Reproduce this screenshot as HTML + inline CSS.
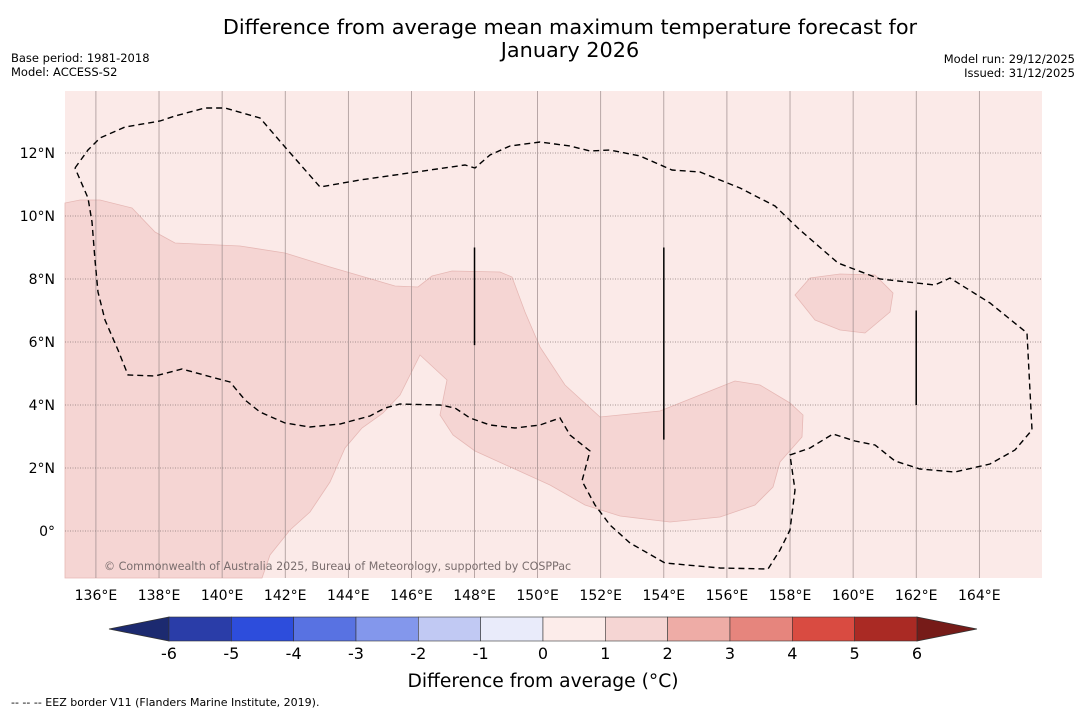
<!DOCTYPE html>
<html><head><meta charset="utf-8"><style>
body{margin:0;background:#fff;width:1085px;height:713px;overflow:hidden;font-family:"Liberation Sans","DejaVu Sans",sans-serif}
svg text{font-family:"DejaVu Sans","Liberation Sans",sans-serif}
</style></head><body>
<svg id="c" width="1085" height="713" xmlns="http://www.w3.org/2000/svg"></svg>
<script>
// data
const lonTicks=[136,138,140,142,144,146,148,150,152,154,156,158,160,162,164];
const latTicks=[0,2,4,6,8,10,12];
const latLabels=["0°","2°N","4°N","6°N","8°N","10°N","12°N"];
const cbBounds=[-6,-5,-4,-3,-2,-1,0,1,2,3,4,5,6];
const cbColors=["#2a3da8","#2d4ddc","#5872e2","#8397ec","#c1c9f3","#e9ebfa","#fcecea","#f5d5d3","#eeaca6","#e6857d","#d94b41","#aa2a24"];
const anomalyRegionPx=[[65,203],[80,200],[100,200],[132,208],[155,232],[175,243],[240,246],[285,253],[330,267],[395,286],[418,287],[432,276],[452,271],[500,272],[512,277],[525,312],[540,347],[565,385],[600,417],[660,411],[705,393],[735,381],[760,385],[790,403],[803,415],[802,437],[780,462],[773,487],[755,505],[720,517],[670,522],[620,516],[585,505],[550,485],[475,451],[453,435],[440,415],[447,380],[420,355],[410,375],[400,395],[383,413],[362,428],[345,448],[330,482],[310,512],[290,530],[270,555],[262,578],[65,578]];
const anomalyRegion2Px=[[795,295],[810,278],[840,274],[875,275],[893,293],[890,312],[865,333],[840,330],[815,320]];
const eezPx=[[75,168],[88,150],[100,138],[125,127],[160,121],[175,116],[205,108],[225,108],[260,118],[285,147],[320,187],[360,180],[430,170],[465,165],[475,168],[490,155],[510,146],[540,142],[570,146],[590,151],[610,150],[640,156],[672,170],[700,172],[740,188],[775,206],[800,230],[838,263],[880,279],[935,285],[950,278],[990,303],[1027,333],[1032,430],[1015,450],[990,464],[955,472],[920,469],[895,461],[875,445],[855,441],[833,434],[810,448],[790,455],[795,490],[790,530],[780,550],[768,569],[720,568],[665,563],[630,543],[610,525],[595,505],[582,481],[590,451],[570,435],[560,418],[540,425],[515,428],[490,425],[470,418],[455,408],[440,405],[400,404],[385,408],[370,416],[340,424],[310,427],[285,423],[260,412],[245,400],[230,382],[215,378],[182,369],[155,376],[128,375],[118,350],[105,320],[98,292],[95,260],[92,222],[88,198],[75,168]];
const vLines=[[148,9,5.9],[154,9,2.9],[162,7,4]];
// axis functions
const X0=65,X1=1042,Y0=91,Y1=578;
const lon0=135.02,ppd=31.55,ppdy=31.5;
const xs=l=>X0+(l-lon0)*ppd, ys=l=>531-l*ppdy;
const toLL=p=>[lon0+(p[0]-X0)/ppd,(531-p[1])/ppdy];
const svg=document.getElementById('c');const NS="http://www.w3.org/2000/svg";
function el(t,a,txt){const e=document.createElementNS(NS,t);for(const k in a)e.setAttribute(k,a[k]);if(txt!==undefined)e.textContent=txt;svg.appendChild(e);return e;}
function path(ll){return ll.map((p,i)=>(i?'L':'M')+xs(p[0]).toFixed(1)+','+ys(p[1]).toFixed(1)).join('');}
let e;
e=el('rect',{x:X0,y:Y0,width:X1-X0,height:Y1-Y0,fill:'#fbeae8'});


e=el('path',{d:path(anomalyRegionPx.map(toLL))+'Z',fill:'#f5d5d3',stroke:'#e6b8b5','stroke-width':0.8});


e=el('path',{d:path(anomalyRegion2Px.map(toLL))+'Z',fill:'#f5d5d3',stroke:'#e6b8b5','stroke-width':0.8});


lonTicks.forEach(l=>{const x=xs(l);
e=el('line',{x1:x,x2:x,y1:Y0,y2:Y1,stroke:'#9a8a8a','stroke-width':0.7});


e=el('text',{x:x,y:600,'font-size':14,'text-anchor':'middle',fill:'#000'},l+'°E');

});
latTicks.forEach((l,i)=>{const y=ys(l);
e=el('line',{x1:X0,x2:X1,y1:y,y2:y,stroke:'#8a7a7a','stroke-width':0.7,'stroke-dasharray':'1,1.5'});


e=el('text',{x:55,y:y+5,'font-size':14,'text-anchor':'end',fill:'#000'},latLabels[i]);

});
e=el('path',{d:path(eezPx.map(toLL)),fill:'none',stroke:'#000','stroke-width':1.4,'stroke-dasharray':'6,4'});


vLines.forEach(v=>{e=el('line',{x1:xs(v[0]),x2:xs(v[0]),y1:ys(v[1]),y2:ys(v[2]),stroke:'#000','stroke-width':1.5});

});
e=el('text',{x:104,y:570,'font-size':11.1,fill:'#7a6e6e'},'© Commonwealth of Australia 2025, Bureau of Meteorology, supported by COSPPac');


// titles
e=el('text',{x:570,y:34,'font-size':20.8,'text-anchor':'middle'},'Difference from average mean maximum temperature forecast for');


e=el('text',{x:570,y:57,'font-size':20.8,'text-anchor':'middle'},'January 2026');


e=el('text',{x:11,y:62,'font-size':11.5},'Base period: 1981-2018');


e=el('text',{x:11,y:76,'font-size':11.5},'Model: ACCESS-S2');


e=el('text',{x:1075,y:63,'font-size':11.5,'text-anchor':'end'},'Model run: 29/12/2025');


e=el('text',{x:1075,y:77,'font-size':11.5,'text-anchor':'end'},'Issued: 31/12/2025');


// colorbar
const cx0=169,cw=62.33,cy=617,ch=24;
const cbx=v=>cx0+(v-cbBounds[0])*cw;
e=el('polygon',{points:`${cx0},${cy} ${cx0-60},${cy+ch/2} ${cx0},${cy+ch}`,fill:'#1c2a70',stroke:'#333','stroke-width':0.8});


const xe=cbx(cbBounds[cbBounds.length-1]);
e=el('polygon',{points:`${xe},${cy} ${xe+60},${cy+ch/2} ${xe},${cy+ch}`,fill:'#761b18',stroke:'#333','stroke-width':0.8});


cbColors.forEach((c,i)=>{e=el('rect',{x:cbx(cbBounds[i]),y:cy,width:cbx(cbBounds[i+1])-cbx(cbBounds[i]),height:ch,fill:c,stroke:'#333','stroke-width':0.6});

});
cbBounds.forEach(b=>{e=el('text',{x:cbx(b),y:659,'font-size':16,'text-anchor':'middle'},String(b));

});
e=el('text',{x:543,y:687,'font-size':18.7,'text-anchor':'middle'},'Difference from average (°C)');


e=el('text',{x:11,y:706,'font-size':11},'--  --  -- EEZ border V11 (Flanders Marine Institute, 2019).');


</script>
</body></html>
